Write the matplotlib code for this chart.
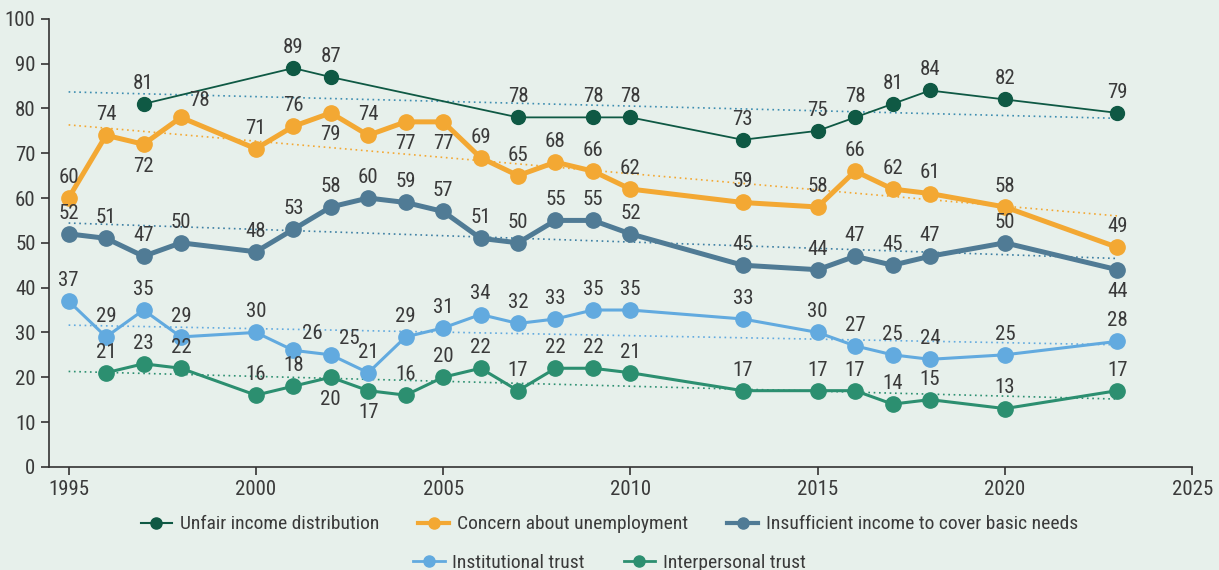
import numpy as np
import matplotlib
matplotlib.use("Agg")
import matplotlib.pyplot as plt
from matplotlib import font_manager
from matplotlib.lines import Line2D

# pick a narrow sans face if one is installed
fam, stretch = "DejaVu Sans", "normal"
pref = ["Roboto Condensed", "Liberation Sans Narrow", "Open Sans Condensed", "Noto Sans",
        "Roboto", "Open Sans", "DejaVu Sans"]
narrow = [f for f in font_manager.fontManager.ttflist
          if f.stretch in ('condensed', 'semi-condensed', 'extra-condensed')
          and f.style == 'normal' and f.weight in (400, 'normal', 'regular')]
narrow.sort(key=lambda f: pref.index(f.name) if f.name in pref else 99)
if narrow:
    fam, stretch = narrow[0].name, narrow[0].stretch
plt.rcParams['font.family'] = [fam, 'DejaVu Sans']
plt.rcParams['font.stretch'] = stretch

# years and values per series
yrs_unfair = [1997, 2001, 2002, 2007, 2009, 2010, 2013, 2015, 2016, 2017, 2018, 2020, 2023]
unfair = [81, 89, 87, 78, 78, 78, 73, 75, 78, 81, 84, 82, 79]

yrs_main = [1995, 1996, 1997, 1998, 2000, 2001, 2002, 2003, 2004, 2005, 2006, 2007, 2008,
            2009, 2010, 2013, 2015, 2016, 2017, 2018, 2020, 2023]
unemployment = [60, 74, 72, 78, 71, 76, 79, 74, 77, 77, 69, 65, 68, 66, 62, 59, 58, 66, 62, 61, 58, 49]
insufficient = [52, 51, 47, 50, 48, 53, 58, 60, 59, 57, 51, 50, 55, 55, 52, 45, 44, 47, 45, 47, 50, 44]
institutional = [37, 29, 35, 29, 30, 26, 25, 21, 29, 31, 34, 32, 33, 35, 35, 33, 30, 27, 25, 24, 25, 28]

yrs_inter = yrs_main[1:]
interpersonal = [21, 23, 22, 16, 18, 20, 17, 16, 20, 22, 17, 22, 22, 21, 17, 17, 17, 14, 15, 13, 17]

# label placement: years whose label goes below / to the right
below = {
    'unemp': [1997, 2002, 2004, 2005],
    'insuf': [2023],
    'inter': [2002, 2003],
}
right = {
    'unemp': [1998],
    'inst': [2001, 2002],
}

bg = "#e7f0eb"
c_unfair = "#0f5944"
c_unemp = "#f3a833"
c_insuf = "#507b95"
c_inst = "#62aadf"
c_inter = "#2c8f70"
txt = "#3a3a3a"

fig = plt.figure(figsize=(12.19, 5.70), dpi=100, facecolor=bg)
ax = fig.add_axes([0.040, 0.181, 0.938, 0.786], facecolor=bg)

series = [
    ('unfair', yrs_unfair, unfair, c_unfair, 1.3, 10, "#3d8db0"),
    ('unemp', yrs_main, unemployment, c_unemp, 3.6, 11, c_unemp),
    ('insuf', yrs_main, insufficient, c_insuf, 3.6, 11, "#3d7fa3"),
    ('inst', yrs_main, institutional, c_inst, 2.2, 11, c_inst),
    ('inter', yrs_inter, interpersonal, c_inter, 2.2, 11, c_inter),
]

for key, x, y, col, lw, ms, tcol in series:
    # linear trend over the whole period
    p = np.polyfit(x, y, 1)
    tx = np.array([1995, 2023])
    ax.plot(tx, np.polyval(p, tx), color=tcol, lw=1.2, ls=(0, (1, 2.2)), zorder=1)
    ax.plot(x, y, color=col, lw=lw, marker='o', ms=ms, zorder=3)
    for xi, yi in zip(x, y):
        if xi in below.get(key, []):
            ax.annotate(str(yi), (xi, yi), xytext=(0, -9), textcoords='offset points',
                        ha='center', va='top', fontsize=15, color=txt, zorder=4)
        elif xi in right.get(key, []):
            ax.annotate(str(yi), (xi, yi), xytext=(6, 5), textcoords='offset points',
                        ha='left', va='bottom', fontsize=15, color=txt, zorder=4)
        else:
            ax.annotate(str(yi), (xi, yi), xytext=(0, 8), textcoords='offset points',
                        ha='center', va='bottom', fontsize=15, color=txt, zorder=4)

ax.set_xlim(1994.47, 2025)
ax.set_ylim(0, 100)
ax.set_xticks(range(1995, 2026, 5))
ax.set_yticks(range(0, 101, 10))
for s in ['top', 'right']:
    ax.spines[s].set_visible(False)
for s in ['left', 'bottom']:
    ax.spines[s].set_color("#333333")
    ax.spines[s].set_linewidth(1.2)
ax.tick_params(colors="#333333", labelsize=15, length=6, width=1.2, labelcolor=txt)

def handle(col, lw):
    return Line2D([], [], color=col, lw=lw, marker='o', ms=8)

leg_kw = dict(loc='center', frameon=False, fontsize=14, handlelength=1.6,
              handletextpad=0.4, columnspacing=2.0, labelcolor=txt)
fig.legend([handle(c_unfair, 1.5), handle(c_unemp, 3), handle(c_insuf, 3)],
           ["Unfair income distribution", "Concern about unemployment",
            "Insufficient income to cover basic needs"],
           bbox_to_anchor=(0.5, 0.080), ncol=3, **leg_kw)
fig.legend([handle(c_inst, 2), handle(c_inter, 2)],
           ["Institutional trust", "Interpersonal trust"],
           bbox_to_anchor=(0.5, 0.013), ncol=2, **leg_kw)

fig.savefig("out.png", dpi=100, facecolor=bg)
